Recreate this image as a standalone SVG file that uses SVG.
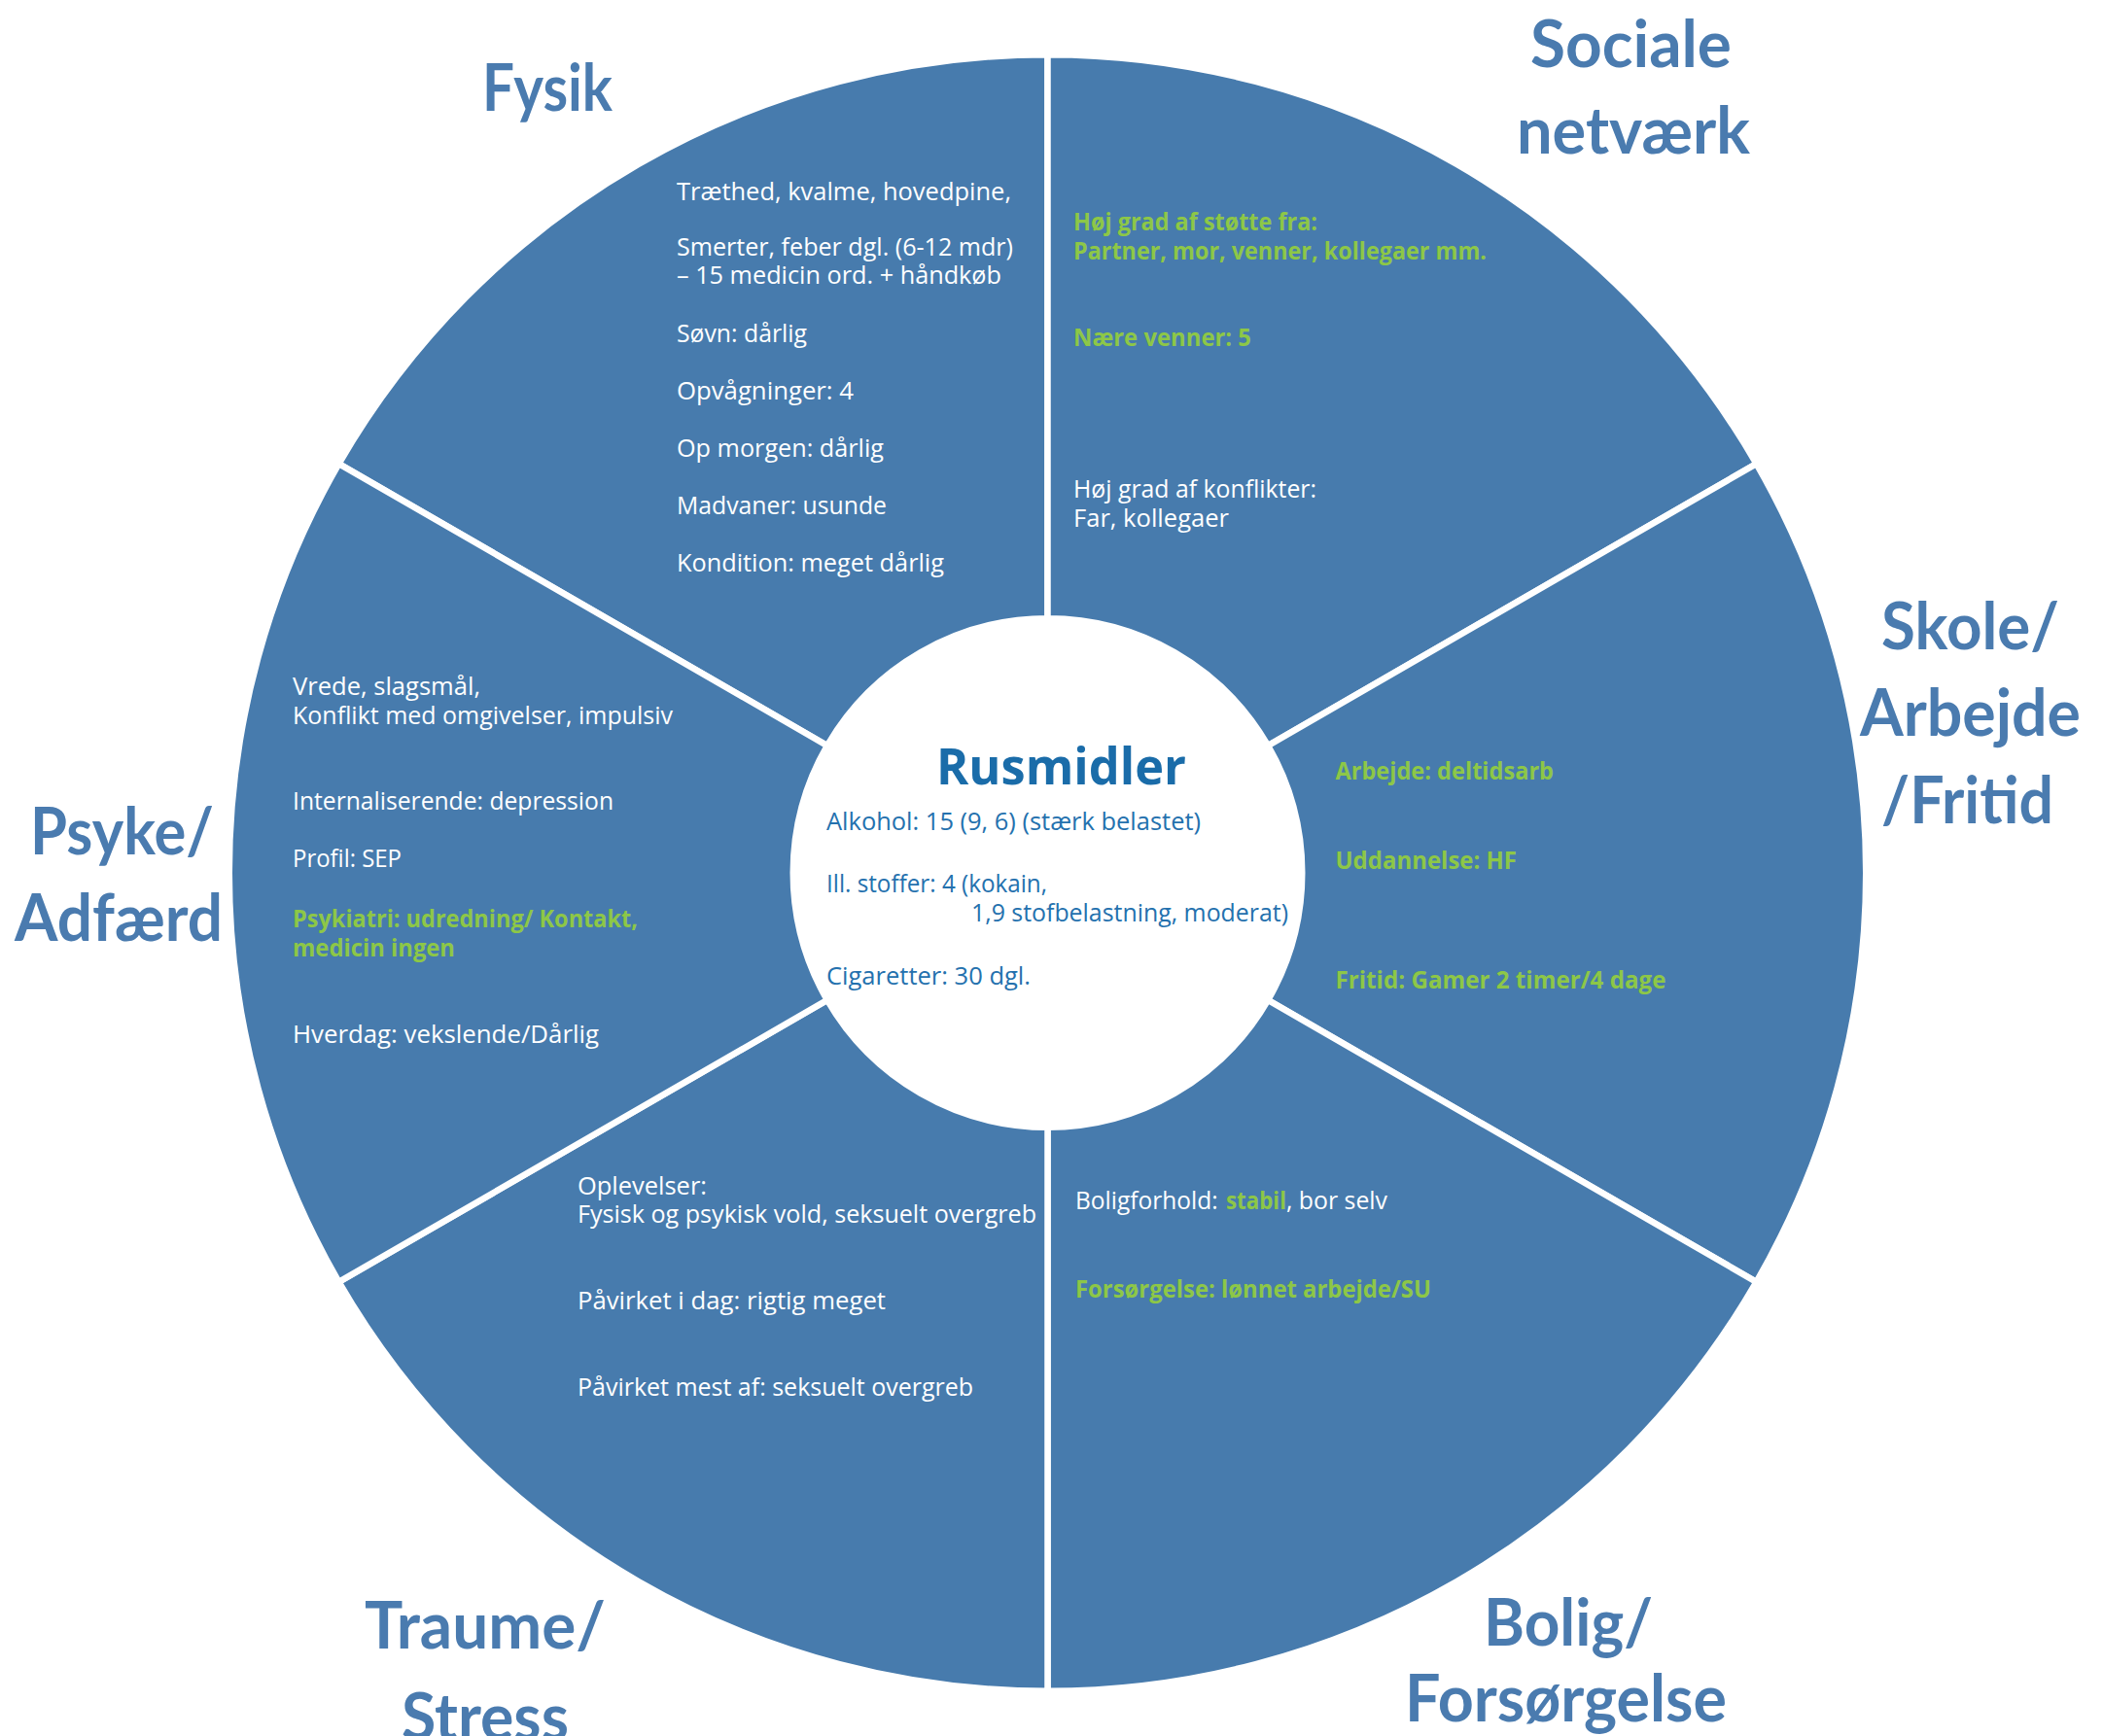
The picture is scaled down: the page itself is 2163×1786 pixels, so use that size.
<svg xmlns="http://www.w3.org/2000/svg" width="2163" height="1786" viewBox="0 0 2163 1786">
<style>
.sec{fill:#477BAD;stroke:#FFFFFF;stroke-width:6.5;stroke-linejoin:miter}
.t{font-family:"Open Sans","Liberation Sans",sans-serif;font-size:25px;fill:#FFFFFF}
.g{font-family:"Open Sans","Liberation Sans",sans-serif;font-size:25px;font-weight:700;fill:#8DC747}
.h{font-family:Lato,"Open Sans","Liberation Sans",sans-serif;font-size:66px;font-weight:700;fill:#4A7BAF}
.c{font-family:"Open Sans","Liberation Sans",sans-serif;font-size:25px;fill:#2471AE}
.cb{font-family:"Open Sans","Liberation Sans",sans-serif;font-size:52px;font-weight:700;fill:#1A6CA9}
</style>
<rect width="2163" height="1786" fill="#FFFFFF"/>
<g id="connectors"></g>
<g id="fysik">
<path class="sec" d="M348.52,477.125 A841.75,841.75 0 0 1 1077.5,56.25 L1077.5,636.25 A261.75,261.75 0 0 0 850.82,767.125 Z"/>
<text class="h" x="496" y="114" textLength="134" lengthAdjust="spacingAndGlyphs">Fysik</text>
<text class="t" x="696" y="206" textLength="344" lengthAdjust="spacingAndGlyphs">Træthed, kvalme, hovedpine,</text>
<text class="t" x="696" y="263" textLength="346" lengthAdjust="spacingAndGlyphs">Smerter, feber dgl. (6-12 mdr)</text>
<text class="t" x="696" y="292" textLength="334" lengthAdjust="spacingAndGlyphs">– 15 medicin ord. + håndkøb</text>
<text class="t" x="696" y="352" textLength="134" lengthAdjust="spacingAndGlyphs">Søvn: dårlig</text>
<text class="t" x="696" y="411" textLength="182" lengthAdjust="spacingAndGlyphs">Opvågninger: 4</text>
<text class="t" x="696" y="470" textLength="213" lengthAdjust="spacingAndGlyphs">Op morgen: dårlig</text>
<text class="t" x="696" y="529" textLength="216" lengthAdjust="spacingAndGlyphs">Madvaner: usunde</text>
<text class="t" x="696" y="588" textLength="275" lengthAdjust="spacingAndGlyphs">Kondition: meget dårlig</text>
</g>
<g id="sociale-netvaerk">
<path class="sec" d="M1077.5,56.25 A841.75,841.75 0 0 1 1806.48,477.125 L1304.18,767.125 A261.75,261.75 0 0 0 1077.5,636.25 Z"/>
<text class="h" x="1574" y="68.5" textLength="207" lengthAdjust="spacingAndGlyphs">Sociale</text>
<text class="h" x="1560" y="158" textLength="240" lengthAdjust="spacingAndGlyphs">netværk</text>
<text class="g" x="1104" y="237" textLength="251" lengthAdjust="spacingAndGlyphs">Høj grad af støtte fra:</text>
<text class="g" x="1104" y="267" textLength="425" lengthAdjust="spacingAndGlyphs">Partner, mor, venner, kollegaer mm.</text>
<text class="g" x="1104" y="356" textLength="183" lengthAdjust="spacingAndGlyphs">Nære venner: 5</text>
<text class="t" x="1104" y="512" textLength="250" lengthAdjust="spacingAndGlyphs">Høj grad af konflikter:</text>
<text class="t" x="1104" y="542" textLength="160" lengthAdjust="spacingAndGlyphs">Far, kollegaer</text>
</g>
<g id="skole-arbejde-fritid">
<path class="sec" d="M1806.48,477.125 A841.75,841.75 0 0 1 1806.48,1318.875 L1304.18,1028.875 A261.75,261.75 0 0 0 1304.18,767.125 Z"/>
<text class="h" x="1935" y="668" textLength="183" lengthAdjust="spacingAndGlyphs">Skole/</text>
<text class="h" x="1913" y="757" textLength="227" lengthAdjust="spacingAndGlyphs">Arbejde</text>
<text class="h" x="1935" y="847" textLength="177" lengthAdjust="spacingAndGlyphs">/Fritid</text>
<text class="g" x="1373.5" y="802" textLength="224.5" lengthAdjust="spacingAndGlyphs">Arbejde: deltidsarb</text>
<text class="g" x="1373.5" y="894" textLength="186.5" lengthAdjust="spacingAndGlyphs">Uddannelse: HF</text>
<text class="g" x="1373.5" y="1017" textLength="340" lengthAdjust="spacingAndGlyphs">Fritid: Gamer 2 timer/4 dage</text>
</g>
<g id="bolig-forsoergelse">
<path class="sec" d="M1806.48,1318.875 A841.75,841.75 0 0 1 1077.5,1739.75 L1077.5,1159.75 A261.75,261.75 0 0 0 1304.18,1028.875 Z"/>
<text class="h" x="1526" y="1693" textLength="174" lengthAdjust="spacingAndGlyphs">Bolig/</text>
<text class="h" x="1445" y="1771" textLength="331" lengthAdjust="spacingAndGlyphs">Forsørgelse</text>
<text class="t" y="1244"><tspan x="1106" textLength="146.6" lengthAdjust="spacingAndGlyphs">Boligforhold:</tspan><tspan x="1261" class="g" textLength="62" lengthAdjust="spacingAndGlyphs">stabil</tspan><tspan x="1323" textLength="104" lengthAdjust="spacingAndGlyphs">, bor selv</tspan></text>
<text class="g" x="1106" y="1335" textLength="366" lengthAdjust="spacingAndGlyphs">Forsørgelse: lønnet arbejde/SU</text>
</g>
<g id="traume-stress">
<path class="sec" d="M1077.5,1739.75 A841.75,841.75 0 0 1 348.52,1318.875 L850.82,1028.875 A261.75,261.75 0 0 0 1077.5,1159.75 Z"/>
<text class="h" x="375" y="1696" textLength="248" lengthAdjust="spacingAndGlyphs">Traume/</text>
<text class="h" x="413" y="1790" textLength="172" lengthAdjust="spacingAndGlyphs">Stress</text>
<text class="t" x="594" y="1229" textLength="133" lengthAdjust="spacingAndGlyphs">Oplevelser:</text>
<text class="t" x="594" y="1258" textLength="472" lengthAdjust="spacingAndGlyphs">Fysisk og psykisk vold, seksuelt overgreb</text>
<text class="t" x="594" y="1347" textLength="317" lengthAdjust="spacingAndGlyphs">Påvirket i dag: rigtig meget</text>
<text class="t" x="594" y="1436" textLength="407" lengthAdjust="spacingAndGlyphs">Påvirket mest af: seksuelt overgreb</text>
</g>
<g id="psyke-adfaerd">
<path class="sec" d="M348.52,1318.875 A841.75,841.75 0 0 1 348.52,477.125 L850.82,767.125 A261.75,261.75 0 0 0 850.82,1028.875 Z"/>
<text class="h" x="31" y="879" textLength="189" lengthAdjust="spacingAndGlyphs">Psyke/</text>
<text class="h" x="15" y="968" textLength="214" lengthAdjust="spacingAndGlyphs">Adfærd</text>
<text class="t" x="301" y="715" textLength="193" lengthAdjust="spacingAndGlyphs">Vrede, slagsmål,</text>
<text class="t" x="301" y="745" textLength="391" lengthAdjust="spacingAndGlyphs">Konflikt med omgivelser, impulsiv</text>
<text class="t" x="301" y="833" textLength="330" lengthAdjust="spacingAndGlyphs">Internaliserende: depression</text>
<text class="t" x="301" y="892" textLength="112" lengthAdjust="spacingAndGlyphs">Profil: SEP</text>
<text class="g" x="301" y="954" textLength="355" lengthAdjust="spacingAndGlyphs">Psykiatri: udredning/ Kontakt,</text>
<text class="g" x="301" y="984" textLength="167" lengthAdjust="spacingAndGlyphs">medicin ingen</text>
<text class="t" x="301" y="1073" textLength="315" lengthAdjust="spacingAndGlyphs">Hverdag: vekslende/Dårlig</text>
</g>
<g id="rusmidler">
<text class="cb" x="963" y="807" textLength="257" lengthAdjust="spacingAndGlyphs">Rusmidler</text>
<text class="c" x="850" y="854" textLength="385" lengthAdjust="spacingAndGlyphs">Alkohol: 15 (9, 6) (stærk belastet)</text>
<text class="c" x="850" y="918" textLength="227" lengthAdjust="spacingAndGlyphs">Ill. stoffer: 4 (kokain,</text>
<text class="c" x="999" y="948" textLength="326" lengthAdjust="spacingAndGlyphs">1,9 stofbelastning, moderat)</text>
<text class="c" x="850" y="1013" textLength="210" lengthAdjust="spacingAndGlyphs">Cigaretter: 30 dgl.</text>
</g>
</svg>
